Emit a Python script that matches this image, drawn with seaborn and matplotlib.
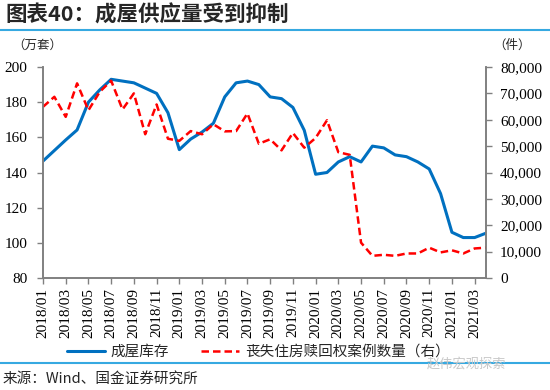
import pandas as pd
import matplotlib
matplotlib.use("Agg")
import matplotlib.pyplot as plt
import matplotlib.ticker as mticker
from matplotlib.lines import Line2D
import seaborn as sns

# =========================
# DATOS
# =========================

months = pd.date_range("2018-01-01", "2021-04-01", freq="MS").strftime("%Y/%m").tolist()

# 成屋库存 (万套), eje izquierdo
inventory = [146.5, 152.5, 158.5, 164.2, 180.0, 187.0, 193.0, 192.0, 191.0, 188.0,
             185.0, 174.0, 153.0, 159.0, 163.0, 168.0, 183.0, 191.0, 192.0, 190.0,
             183.0, 182.0, 177.0, 164.0, 139.0, 140.0, 146.0, 149.0, 146.0, 155.0,
             154.0, 150.0, 149.0, 146.0, 142.0, 128.0, 106.0, 103.0, 103.0, 105.5]

# 丧失住房赎回权案例数量 (件), eje derecho
foreclosures = [64900, 68700, 61100, 73800, 63600, 70600, 74800, 63900, 70000, 54500,
                65800, 52800, 52000, 55700, 54500, 58300, 55600, 55700, 62400, 50900,
                52600, 48400, 55000, 49400, 53100, 59800, 47700, 46700, 13400, 8400,
                8800, 8400, 9300, 9300, 11500, 9700, 10500, 9300, 11200, 11500]

df = pd.DataFrame({"idx": range(len(months)), "month": months,
                   "inventory": inventory, "foreclosures": foreclosures})

# =========================
# ESTILO
# =========================

sns.set_style("ticks")
cjk = ["Noto Sans CJK SC", "DejaVu Sans"]
serif = ["Liberation Serif", "DejaVu Serif"]
plt.rcParams["font.family"] = cjk

blue = "#0070C0"
red = "#FF0000"
grey = "#808080"
line_blue = "#36A9E1"

fig = plt.figure(figsize=(5.5, 3.9), dpi=100)
ax = fig.add_axes([43 / 550, 1 - 278 / 390, (486 - 43) / 550, (278 - 67) / 390])
ax2 = ax.twinx()

sns.lineplot(data=df, x="idx", y="inventory", ax=ax, color=blue, linewidth=2.2)
sns.lineplot(data=df, x="idx", y="foreclosures", ax=ax2, color=red, linewidth=1.8,
             linestyle=(0, (3, 1.6)))

ax.set_xlim(0, len(months) - 1)
ax.set_ylim(80, 200)
ax.set_yticks(range(80, 201, 20))
ax2.set_ylim(0, 80000)
ax2.set_yticks(range(0, 80001, 10000))
ax2.yaxis.set_major_formatter(mticker.StrMethodFormatter("{x:,.0f}"))

ax.set_xticks(df["idx"][::2])
ax.set_xticklabels(df["month"][::2], rotation=90, fontfamily=serif, fontsize=11)
for a in (ax, ax2):
    a.set_xlabel("")
    a.set_ylabel("")
    for lab in a.get_yticklabels():
        lab.set_fontfamily(serif)
        lab.set_fontsize(11)
    a.tick_params(colors=grey, labelcolor="black", length=4, width=1)
    for s in a.spines.values():
        s.set_color(grey)
        s.set_linewidth(1.2)
    a.spines["top"].set_visible(False)
ax2.spines["right"].set_visible(True)
ax.tick_params(axis="y", pad=7)
ax2.tick_params(axis="y", pad=6)
ax.tick_params(axis="x", pad=3)

# =========================
# TEXTOS
# =========================

fig.text(5 / 550, 1 - 15 / 390, "图表40：成屋供应量受到抑制", fontsize=15.5,
         fontweight="bold", va="center", ha="left")
fig.add_artist(Line2D([0, 1], [1 - 30 / 390] * 2, color=line_blue, linewidth=1.5))
fig.text(12 / 550, 1 - 45 / 390, "（万套）", fontsize=9, va="center", ha="left")
fig.text(493 / 550, 1 - 45 / 390, "（件）", fontsize=9, va="center", ha="left")

handles = [Line2D([], [], color=blue, linewidth=2.2),
           Line2D([], [], color=red, linewidth=1.8, linestyle=(0, (3, 1.6)))]
fig.legend(handles, ["成屋库存", "丧失住房赎回权案例数量（右）"], loc="center",
           bbox_to_anchor=(258 / 550, 1 - 352 / 390), ncol=2, frameon=False,
           fontsize=10.5, handlelength=2.6, columnspacing=2.2, handletextpad=0.4)

fig.add_artist(Line2D([0, 1], [1 - 363 / 390] * 2, color=line_blue, linewidth=1.5))
fig.text(3 / 550, 1 - 379 / 390, "来源：Wind、国金证券研究所", fontsize=10.5,
         va="center", ha="left")
fig.text(506 / 550, 1 - 364 / 390, "赵伟宏观探索", fontsize=9.5, color="#C8C8C8",
         va="center", ha="right")

fig.savefig("out.png", dpi=100)
